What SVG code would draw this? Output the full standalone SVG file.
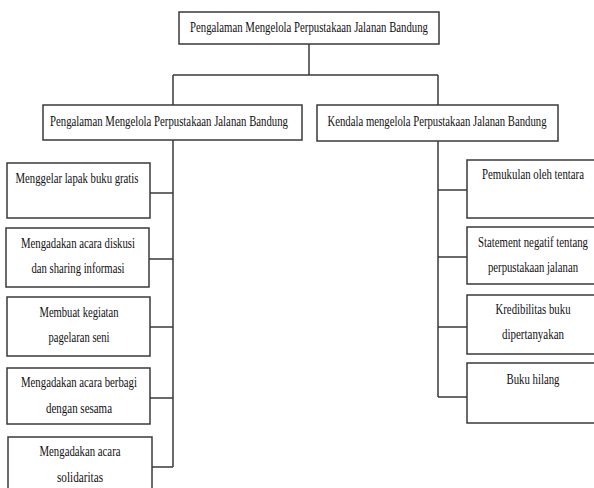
<svg xmlns="http://www.w3.org/2000/svg" width="594" height="488" viewBox="0 0 594 488">
<style>
rect{fill:#fff;stroke:#3a3a3a;stroke-width:1.5}
text{font-family:"Liberation Serif","Times New Roman",serif;font-size:14.5px;fill:#111;text-anchor:middle}
#connectors path{fill:none;stroke:#3a3a3a;stroke-width:1.5}
</style>
<rect x="0" y="0" width="594" height="488" style="stroke:none;fill:#fff"/>
<g id="connectors">
<path d="M309 44V75M173 75H438M173 75V105M438 75V105"/>
<path d="M173 140V467M150 193H173M149 259H173M150 327H173M150 398H173M152 467H173"/>
<path d="M438 141V397M438 190H467M438 257H467M438 327H467M438 397H467"/>
</g>
<g id="root"><rect x="179" y="12" width="260" height="32"/><text transform="translate(309 32) scale(0.8 1)" textLength="297.5" lengthAdjust="spacingAndGlyphs">Pengalaman Mengelola Perpustakaan Jalanan Bandung</text></g>
<g id="left"><rect x="43" y="105" width="259" height="35"/><text transform="translate(169 126) scale(0.8 1)" textLength="297.5" lengthAdjust="spacingAndGlyphs">Pengalaman Mengelola Perpustakaan Jalanan Bandung</text></g>
<g id="right"><rect x="317" y="105" width="241" height="36"/><text transform="translate(437 126) scale(0.8 1)" textLength="273.75" lengthAdjust="spacingAndGlyphs">Kendala mengelola Perpustakaan Jalanan Bandung</text></g>
<g id="l1"><rect x="7" y="163" width="143" height="55"/><text transform="translate(77 183) scale(0.8 1)" textLength="153.75" lengthAdjust="spacingAndGlyphs">Menggelar lapak buku gratis</text></g>
<g id="l2"><rect x="6" y="228" width="143" height="59"/><text transform="translate(78 248) scale(0.8 1)" textLength="142.5" lengthAdjust="spacingAndGlyphs">Mengadakan acara diskusi</text><text transform="translate(78 273) scale(0.8 1)" textLength="116.25" lengthAdjust="spacingAndGlyphs">dan sharing informasi</text></g>
<g id="l3"><rect x="7" y="297" width="143" height="59"/><text transform="translate(79 317) scale(0.8 1)" textLength="98.75" lengthAdjust="spacingAndGlyphs">Membuat kegiatan</text><text transform="translate(79 342) scale(0.8 1)" textLength="76.25" lengthAdjust="spacingAndGlyphs">pagelaran seni</text></g>
<g id="l4"><rect x="7" y="368" width="143" height="56"/><text transform="translate(79 387) scale(0.8 1)" textLength="145" lengthAdjust="spacingAndGlyphs">Mengadakan acara berbagi</text><text transform="translate(79 413) scale(0.8 1)" textLength="82.5" lengthAdjust="spacingAndGlyphs">dengan sesama</text></g>
<g id="l5"><rect x="8" y="437" width="144" height="60"/><text transform="translate(80 456) scale(0.8 1)" textLength="101.25" lengthAdjust="spacingAndGlyphs">Mengadakan acara</text><text transform="translate(80 482) scale(0.8 1)" textLength="57.5" lengthAdjust="spacingAndGlyphs">solidaritas</text></g>
<g id="r1"><rect x="467" y="160" width="134" height="58"/><text transform="translate(533 179) scale(0.8 1)" textLength="127.5" lengthAdjust="spacingAndGlyphs">Pemukulan oleh tentara</text></g>
<g id="r2"><rect x="467" y="227" width="134" height="57"/><text transform="translate(533 247) scale(0.7 1)" textLength="157.14" lengthAdjust="spacingAndGlyphs">Statement negatif tentang</text><text transform="translate(533 272) scale(0.8 1)" textLength="112.5" lengthAdjust="spacingAndGlyphs">perpustakaan jalanan</text></g>
<g id="r3"><rect x="467" y="295" width="134" height="59"/><text transform="translate(533 314) scale(0.8 1)" textLength="93.75" lengthAdjust="spacingAndGlyphs">Kredibilitas buku</text><text transform="translate(533 339) scale(0.8 1)" textLength="77.5" lengthAdjust="spacingAndGlyphs">dipertanyakan</text></g>
<g id="r4"><rect x="467" y="363" width="134" height="60"/><text transform="translate(533 384) scale(0.8 1)" textLength="66.25" lengthAdjust="spacingAndGlyphs">Buku hilang</text></g>
</svg>
